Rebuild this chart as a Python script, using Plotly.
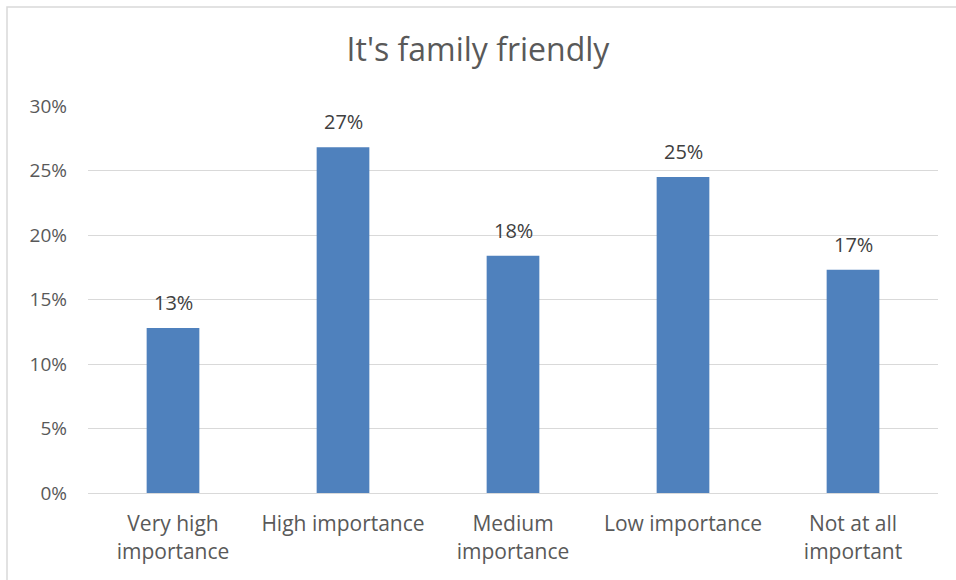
import plotly.graph_objects as go

categories = ["Very high<br>importance", "High importance", "Medium<br>importance",
              "Low importance", "Not at all<br>important"]
values = [12.8, 26.8, 18.4, 24.5, 17.3]
labels = ["13%", "27%", "18%", "25%", "17%"]
tick_vals = [0, 5, 10, 15, 20, 25, 30]
tick_text = ["0%", "5%", "10%", "15%", "20%", "25%", "30%"]

W, H = 956, 580
L, R, T, B = 88, 18, 106, 87
pw, ph = W - L - R, H - T - B

fig = go.Figure(go.Bar(
    x=categories, y=values,
    marker=dict(color="#4f81bd", line=dict(width=0)),
    hoverinfo="skip",
))

annotations = [dict(x=c, y=v, text=t, xref="x", yref="y", showarrow=False,
                    yanchor="bottom", yshift=10,
                    font=dict(size=20, color="#404040", family="Open Sans"))
               for c, v, t in zip(categories, values, labels)]

fig.update_layout(
    width=W, height=H,
    margin=dict(l=L, r=R, t=T, b=B),
    paper_bgcolor="white", plot_bgcolor="white",
    bargap=0.69,
    showlegend=False,
    font=dict(family="Open Sans", size=18, color="#595959"),
    title=dict(text="It's family friendly", x=0.5, xanchor="center",
               y=1 - 50 / H, yanchor="middle",
               font=dict(size=32, color="#595959", family="Open Sans")),
    xaxis=dict(showgrid=False, showline=True, linecolor="#d9d9d9", linewidth=1,
               ticks="", ticklabelstandoff=12,
               tickfont=dict(size=21, color="#595959")),
    yaxis=dict(range=[0, 30], tickvals=tick_vals, ticktext=tick_text,
               showgrid=True, gridcolor="#d9d9d9", gridwidth=1,
               zeroline=False, showline=False, ticks="",
               ticklabelstandoff=20,
               tickfont=dict(size=19, color="#595959")),
    annotations=annotations,
    shapes=[dict(type="rect", xref="paper", yref="paper",
                 x0=(7 - L) / pw, x1=(W + 5 - L) / pw,
                 y0=-(H + 5 - (H - B)) / ph, y1=(H - B - 7) / ph,
                 line=dict(color="#d9d9d9", width=1.5), layer="below")],
)

fig.write_html("out.html", config={"displayModeBar": False},
               post_script="document.body.style.margin='0';")
